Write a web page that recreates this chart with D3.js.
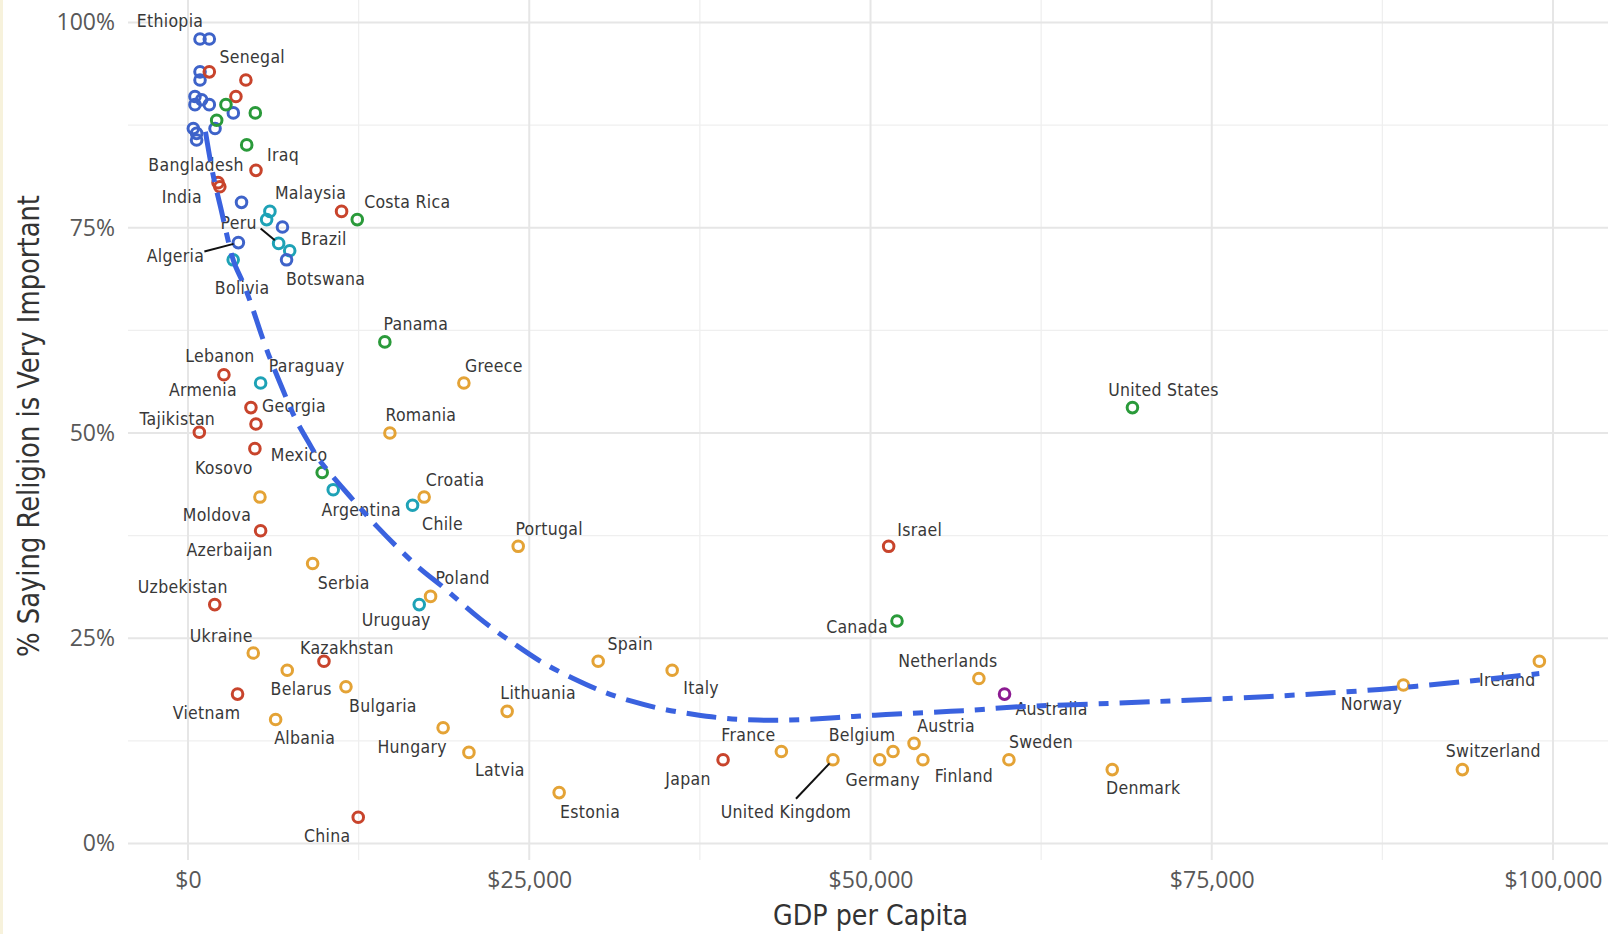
<!DOCTYPE html>
<html>
<head>
<meta charset="utf-8">
<script src="https://cdn.jsdelivr.net/npm/d3@7"></script>
<style>
  body { margin: 0; background: #fff; }
  svg { display: block; }
</style>
</head>
<body>
<div id="chart"></div>
<script>
// countries, GDP per capita (US$) and % saying religion is very important
var countries = ["Ethiopia","Senegal","Iraq","Bangladesh","India","Malaysia","Costa Rica","Peru","Brazil","Algeria",
  "Bolivia","Botswana","Panama","Lebanon","Paraguay","Greece","Armenia","Georgia","Tajikistan","Romania",
  "Kosovo","Mexico","Argentina","Moldova","Croatia","Chile","Azerbaijan","Portugal","Israel","Serbia",
  "Poland","Uruguay","Uzbekistan","Canada","Ukraine","Kazakhstan","Spain","Ireland","Belarus","Italy",
  "Netherlands","Bulgaria","Norway","Australia","Vietnam","Lithuania","Albania","Hungary","Austria","Latvia",
  "France","Belgium","Japan","United Kingdom","Germany","Finland","Sweden","Switzerland","Denmark","Estonia",
  "China","United States",
  "","","","","","","","","","","","","","","","","","","","","",""];
var gdp = [880,1560,4980,2200,2330,11250,12400,6640,7450,3690,
  3310,7220,14420,2630,5320,20210,4610,4980,830,14790,
  4900,9830,10640,5270,17300,16450,5320,24190,51330,9130,
  17770,16940,1960,51940,4780,9960,30050,99000,7270,35470,
  57940,11570,89040,59820,3630,23380,6420,18690,53190,20580,
  43470,51650,39200,47250,50670,53840,60140,93360,67710,27190,
  12470,69190,
  880,880,510,510,1000,1560,3320,1980,390,630,630,3920,6920,1560,4240,3510,2780,4930,2100,4300,6000,5760];
var pct = [98.0,98.0,82.0,80.5,80.0,77.0,76.0,73.1,72.2,73.2,
  71.1,71.1,61.1,57.1,56.1,56.1,53.1,51.1,50.1,50.0,
  48.1,45.2,43.1,42.2,42.2,41.2,38.1,36.2,36.2,34.1,
  30.1,29.1,29.1,27.1,23.2,22.2,22.2,22.2,21.1,21.1,
  20.1,19.1,19.3,18.2,18.2,16.1,15.1,14.1,12.2,11.1,
  11.2,11.2,10.2,10.2,10.2,10.2,10.2,9.0,9.0,6.2,
  3.2,53.1,
  94.0,93.0,91.0,90.0,90.6,90.0,89.0,87.1,87.1,86.5,85.7,78.1,75.1,94.0,93.0,91.0,90.0,89.0,88.1,85.1,77.0,76.0];
var region = ["Africa","Africa","Asia","Asia","Asia","Asia","NorthAm","SouthAm","SouthAm","Africa",
  "SouthAm","Africa","NorthAm","Asia","SouthAm","Europe","Asia","Asia","Asia","Europe",
  "Asia","NorthAm","SouthAm","Europe","Europe","SouthAm","Asia","Europe","Asia","Europe",
  "Europe","SouthAm","Asia","NorthAm","Europe","Asia","Europe","Europe","Europe","Europe",
  "Europe","Europe","Europe","Oceania","Asia","Europe","Europe","Europe","Europe","Europe",
  "Europe","Europe","Asia","Europe","Europe","Europe","Europe","Europe","Europe","Europe",
  "Asia","NorthAm",
  "Africa","Africa","Africa","Africa","Africa","Africa","Africa","Africa","Africa","Africa","Africa","Africa","Africa",
  "Asia","Asia","Asia","NorthAm","NorthAm","NorthAm","NorthAm","SouthAm","SouthAm"];

// smoothed trend
var fitGdp = [1279,1851,2340,3077,3438,4047,4785,5274,6124,6981,7831,9058,9539,11864,13572,16987,18454,21380,24187,26015,
  28211,30288,32484,34801,37126,39322,41760,44077,46522,48719,51156,53473,55918,58115,60680,66781,79962,88990,98997];
var fitPct = [86.7,81.0,78.0,72.3,70.3,68.4,65.0,62.4,58.5,55.2,51.6,48.3,46.7,42.3,39.0,33.3,31.7,27.2,24.0,21.9,
  20.1,18.5,17.3,16.3,15.7,15.2,15.0,15.0,15.2,15.5,15.7,15.9,16.1,16.3,16.7,17.0,17.9,18.9,20.7];

var xTicks = [0, 25000, 50000, 75000, 100000];
var yTicks = [0, 0.25, 0.5, 0.75, 1];

// label placement (pixel nudges from the point), like ggrepel output
var nudge = {
  "Ethiopia":[-30,-18],"Senegal":[43,18],"Iraq":[27,-15],"Bangladesh":[-22,-18],"India":[-38,10],
  "Malaysia":[-31,-18],"Costa Rica":[50,-18],"Peru":[-40,-20],"Brazil":[34,-12],"Algeria":[-63,13],
  "Bolivia":[9,28],"Botswana":[39,19],"Panama":[31,-18],"Lebanon":[-4,-19],"Paraguay":[46,-17],
  "Greece":[30,-17],"Armenia":[-48,-18],"Georgia":[38,-18],"Tajikistan":[-22,-13],"Romania":[31,-18],
  "Kosovo":[-31,19],"Mexico":[-23,-17],"Argentina":[28,20],"Moldova":[-43,18],"Croatia":[31,-17],
  "Chile":[30,19],"Azerbaijan":[-31,19],"Portugal":[31,-17],"Israel":[31,-16],"Serbia":[31,19],
  "Poland":[32,-18],"Uruguay":[-23,15],"Uzbekistan":[-32,-18],"Canada":[-40,6],"Ukraine":[-32,-17],
  "Kazakhstan":[23,-13],"Spain":[32,-17],"Ireland":[-32,19],"Belarus":[14,19],"Italy":[29,18],
  "Netherlands":[-31,-17],"Bulgaria":[37,19],"Norway":[-32,19],"Australia":[47,15],"Vietnam":[-31,19],
  "Lithuania":[31,-18],"Albania":[29,18],"Hungary":[-31,19],"Austria":[32,-17],"Latvia":[31,18],
  "France":[-33,-17],"Belgium":[-31,-17],"Japan":[-35,19],"United Kingdom":[-47,52],"Germany":[3,20],
  "Finland":[41,16],"Sweden":[32,-18],"Switzerland":[31,-19],"Denmark":[31,18],"Estonia":[31,19],
  "China":[-31,19],"United States":[31,-18]
};
// segment start (relative to point) for labels pushed far away
var segment = { "Peru":[-18,-15], "Algeria":[-34,9], "United Kingdom":[-37,39] };

var colors = { Africa:"#3e63c9", Asia:"#c8442c", NorthAm:"#2a9a3a", SouthAm:"#1ea2b6", Europe:"#e4a336", Oceania:"#8c1b92" };

var margin = {top: 0, right: 2, bottom: 74, left: 128},
    width = 1610 - margin.left - margin.right,
    height = 934 - margin.top - margin.bottom;

var root = d3.select("#chart").append("svg")
    .attr("width", 1610)
    .attr("height", 934);

root.append("rect").attr("x", 0).attr("y", 0).attr("width", 3).attr("height", 934).attr("fill", "#f7f2dc");

var svg = root.append("g")
    .attr("transform", "translate(" + margin.left + "," + margin.top + ")");

var x = d3.scaleLinear().domain([-4396, 104029]).range([0, width]);
var y = d3.scaleLinear().domain([-0.0201, 1.0275]).range([height, 0]);

var labelFont = "'Liberation Sans Narrow', 'DejaVu Sans Condensed', sans-serif";
var tickFont = "'Open Sans', 'DejaVu Sans', sans-serif";

// minor grid
var xMinor = xTicks.slice(0, -1).map(function(d){ return d + 12500; });
var yMinor = yTicks.slice(0, -1).map(function(d){ return d + 0.125; });
svg.selectAll(".xminor").data(xMinor).enter().append("line")
  .attr("x1", function(d){ return x(d); }).attr("x2", function(d){ return x(d); })
  .attr("y1", 0).attr("y2", height)
  .attr("stroke", "#efefef").attr("stroke-width", 1.3);
svg.selectAll(".yminor").data(yMinor).enter().append("line")
  .attr("y1", function(d){ return y(d); }).attr("y2", function(d){ return y(d); })
  .attr("x1", 0).attr("x2", width)
  .attr("stroke", "#efefef").attr("stroke-width", 1.3);
// major grid
svg.selectAll(".xmajor").data(xTicks).enter().append("line")
  .attr("x1", function(d){ return x(d); }).attr("x2", function(d){ return x(d); })
  .attr("y1", 0).attr("y2", height)
  .attr("stroke", "#e6e6e6").attr("stroke-width", 2);
svg.selectAll(".ymajor").data(yTicks).enter().append("line")
  .attr("y1", function(d){ return y(d); }).attr("y2", function(d){ return y(d); })
  .attr("x1", 0).attr("x2", width)
  .attr("stroke", "#e6e6e6").attr("stroke-width", 2);

// axes (tick labels only)
var xAxis = svg.append("g")
  .attr("transform", "translate(0," + height + ")")
  .call(d3.axisBottom(x).tickValues(xTicks).tickSize(0).tickPadding(12)
    .tickFormat(function(d){ return "$" + d3.format(",")(d); }));
var yAxis = svg.append("g")
  .call(d3.axisLeft(y).tickValues(yTicks).tickSize(0).tickPadding(13)
    .tickFormat(d3.format(".0%")));
[xAxis, yAxis].forEach(function(a){
  a.select(".domain").remove();
  a.selectAll("text").attr("font-family", tickFont).attr("font-size", 23).attr("fill", "#585858");
});

// axis titles
root.append("text")
  .attr("x", margin.left + x(50000)).attr("y", 915)
  .attr("text-anchor", "middle").attr("dominant-baseline", "central")
  .attr("font-family", labelFont).attr("font-size", 29).attr("fill", "#333")
  .attr("textLength", 195).attr("lengthAdjust", "spacingAndGlyphs")
  .text("GDP per Capita");
root.append("text")
  .attr("transform", "translate(28,426) rotate(-90)")
  .attr("text-anchor", "middle").attr("dominant-baseline", "central")
  .attr("font-family", labelFont).attr("font-size", 30).attr("fill", "#333")
  .attr("textLength", 462).attr("lengthAdjust", "spacingAndGlyphs")
  .text("% Saying Religion is Very Important");

var rows = countries.map(function(c, i){
  return {name: c, gdp: gdp[i], pct: pct[i] / 100, region: region[i]};
});

// points
svg.selectAll(".pt").data(rows).enter().append("circle")
  .attr("cx", function(d){ return x(d.gdp); })
  .attr("cy", function(d){ return y(d.pct); })
  .attr("r", 5.3)
  .attr("fill", "none")
  .attr("stroke", function(d){ return colors[d.region]; })
  .attr("stroke-width", 3);

var labeled = rows.filter(function(d){ return d.name !== ""; });

// leader segments
svg.selectAll(".seg").data(labeled.filter(function(d){ return segment[d.name]; })).enter().append("line")
  .attr("x1", function(d){ return x(d.gdp) + segment[d.name][0]; })
  .attr("y1", function(d){ return y(d.pct) + segment[d.name][1]; })
  .attr("x2", function(d){
    var s = segment[d.name], L = Math.hypot(s[0], s[1]);
    return x(d.gdp) + s[0] / L * 5; })
  .attr("y2", function(d){
    var s = segment[d.name], L = Math.hypot(s[0], s[1]);
    return y(d.pct) + s[1] / L * 5; })
  .attr("stroke", "#111").attr("stroke-width", 2);

// labels
svg.selectAll(".lbl").data(labeled).enter().append("text")
  .attr("x", function(d){ return x(d.gdp) + nudge[d.name][0]; })
  .attr("y", function(d){ return y(d.pct) + nudge[d.name][1]; })
  .attr("text-anchor", "middle").attr("dominant-baseline", "central")
  .attr("font-family", labelFont).attr("font-size", 17.5).attr("letter-spacing", 0.3)
  .attr("fill", "#383838")
  .text(function(d){ return d.name; });

// trend line
var fit = fitGdp.map(function(g, i){ return [g, fitPct[i] / 100]; });
svg.append("path")
  .datum(fit)
  .attr("fill", "none")
  .attr("stroke", "#3a62df")
  .attr("stroke-width", 5)
  .attr("stroke-dasharray", "30,11,10,11")
  .attr("d", d3.line()
    .curve(d3.curveBasis)
    .x(function(d){ return x(d[0]); })
    .y(function(d){ return y(d[1]); }));
</script>
</body>
</html>
